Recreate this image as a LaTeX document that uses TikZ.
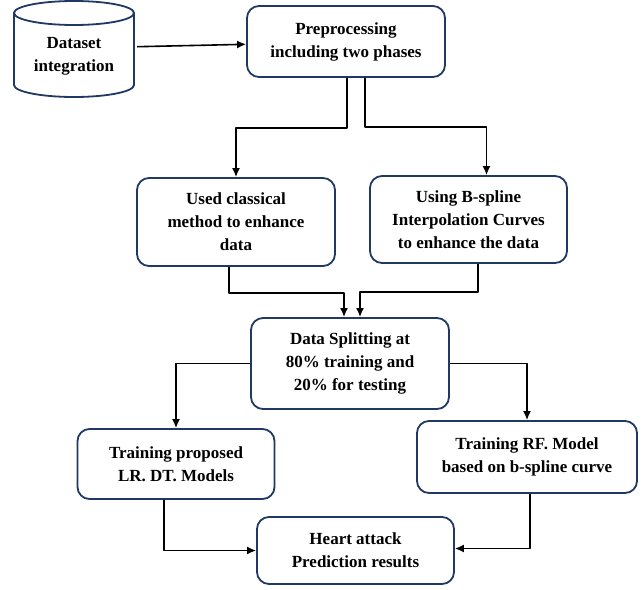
\documentclass[tikz,border=0pt]{standalone}
\usepackage{fontspec}
\setmainfont{Liberation Serif}
\usetikzlibrary{arrows.meta}
\definecolor{boxnavy}{HTML}{203864}

\begin{document}
\begin{tikzpicture}[x=1pt,y=-1pt,line join=round,>={Latex[length=9pt,width=8pt]},
	txt/.style={align=center,font=\bfseries\fontsize{17}{23}\selectfont},
	box/.style={txt,draw=boxnavy,line width=1.8pt,rounded corners=12pt,inner sep=2pt},
	link/.style={->,line width=1.6pt}]
	\useasboundingbox (0,0) rectangle (644,589);
	% database
	\draw[boxnavy,line width=1.8pt] (74,13) ellipse [x radius=60,y radius=12];
	\draw[boxnavy,line width=1.8pt] (14,13)--(14,85) arc[start angle=180,end angle=0,x radius=60,y radius=12]--(134,13);
	\node[txt,minimum width=126pt] (data) at (74,56) {Dataset\\integration};
	% boxes
	\node[box,minimum width=198pt,minimum height=71pt] (prep) at (346,41.5) {Preprocessing\\including two phases};
	\node[box,minimum width=198pt,minimum height=88pt] (classic) at (236,222) {Used classical\\method to enhance\\data};
	\node[box,minimum width=197pt,minimum height=87pt] (bspline) at (468.5,219.5) {Using B-spline\\Interpolation Curves\\to enhance the data};
	\node[box,minimum width=198pt,minimum height=91pt] (split) at (350,363.5) {Data Splitting at\\80\% training and\\20\% for testing};
	\node[box,minimum width=197pt,minimum height=70pt] (lrdt) at (176,464) {Training proposed\\LR. DT. Models};
	\node[box,minimum width=220pt,minimum height=72pt] (rf) at (527,457) {Training RF. Model\\based on b-spline curve};
	\node[box,minimum width=197pt,minimum height=67pt] (heart) at (355.5,550.5) {Heart attack\\Prediction results};
	% arrows
	\draw[link] ([yshift=9.3pt]data.east)--([yshift=-2.8pt]prep.west);
	\draw[link] ([xshift=1pt]prep.south)--++(0,50)-|(classic.north);
	\draw[link] ([xshift=19pt]prep.south)--++(0,49)-|([xshift=18pt]bspline.north);
	\draw[link] ([xshift=-7pt]classic.south)--++(0,26)-|([xshift=-6pt]split.north);
	\draw[link] ([xshift=9.5pt]bspline.south)--++(0,28)-|([xshift=10pt]split.north);
	\draw[link] (split.west)-|(lrdt.north);
	\draw[link] (split.east)-|(rf.north);
	\draw[link] ([xshift=-12pt]lrdt.south)|-(heart.west);
	\draw[link] ([xshift=3pt]rf.south)|-([yshift=2pt]heart.east);
\end{tikzpicture}
\end{document}
